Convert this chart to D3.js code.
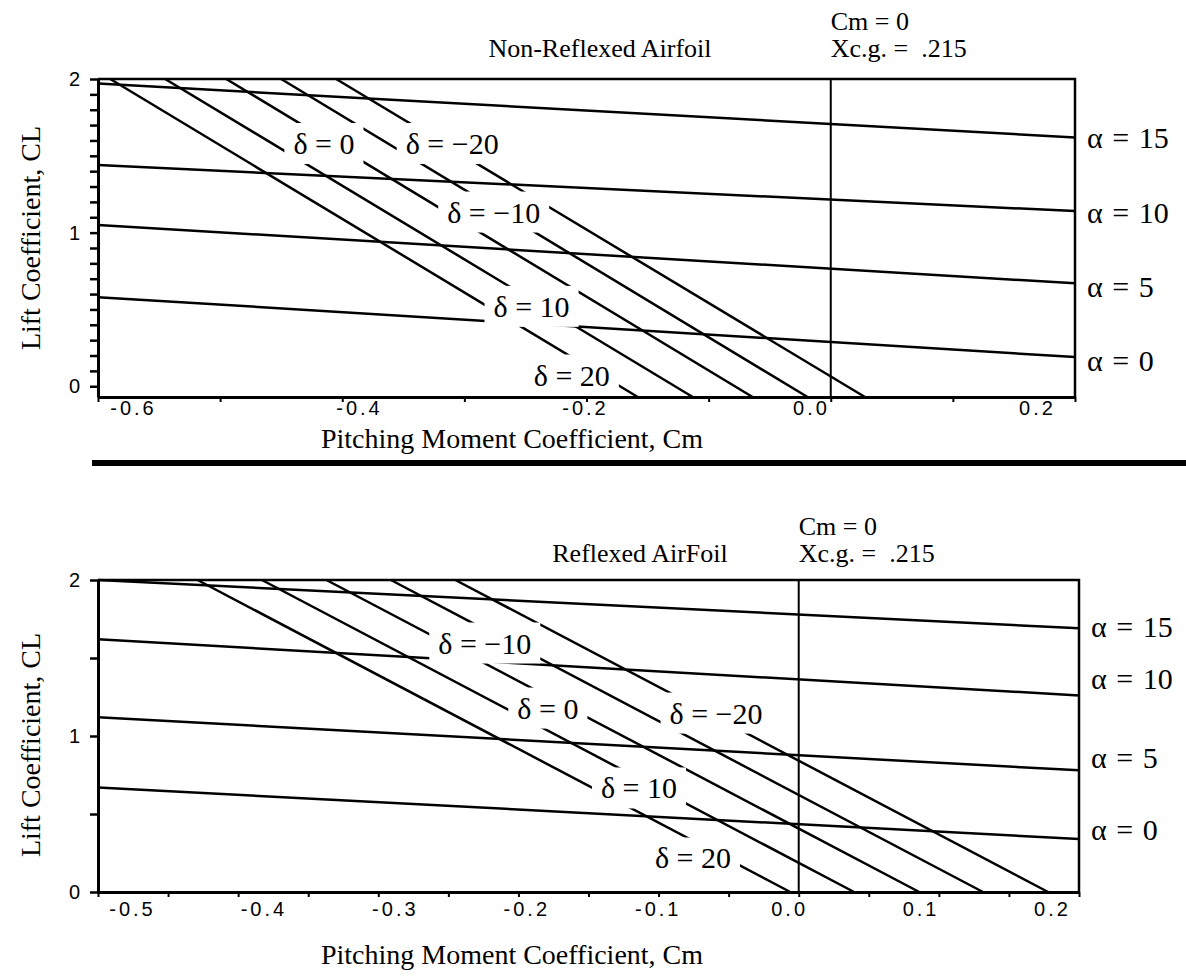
<!DOCTYPE html>
<html>
<head>
<meta charset="utf-8">
<script src="https://cdn.jsdelivr.net/npm/d3@7"></script>
<style>
  body { margin: 0; background: #fff; }
  svg { display: block; }
</style>
</head>
<body>
<svg width="1186" height="979"></svg>
<script>
'use strict'

// --- Non-Reflexed Airfoil (top) ---
const topAlpha = [0, 5, 10, 15]
const topAlphaClLeft = [0.58, 1.05, 1.44, 1.97] // CL at left edge
const topAlphaClRight = [0.19, 0.67, 1.14, 1.62] // CL at right edge
const topAlphaLabelCl = [0.17, 0.65, 1.13, 1.62]
const topDelta = [20, 10, 0, -10, -20]
const topDeltaCmHigh = [-0.59, -0.545, -0.495, -0.45, -0.405] // Cm where CL = 2
const topDeltaCmLow = [-0.158, -0.113, -0.064, -0.019, 0.028] // Cm at bottom edge
const topDeltaLabelCm = [-0.212, -0.245, -0.415, -0.276, -0.31]
const topDeltaLabelCl = [0.073, 0.52, 1.58, 1.134, 1.58]
const topXTicks = [-0.6, -0.4, -0.2, 0.0, 0.2]
const topYTicks = [0, 1, 2]

// --- Reflexed AirFoil (bottom) ---
const botAlpha = [0, 5, 10, 15]
const botAlphaClLeft = [0.67, 1.12, 1.62, 2.0]
const botAlphaClRight = [0.34, 0.78, 1.26, 1.69]
const botAlphaLabelCl = [0.4, 0.86, 1.37, 1.7]
const botDelta = [20, 10, 0, -10, -20]
const botDeltaCmHigh = [-0.429, -0.383, -0.337, -0.291, -0.245]
const botDeltaCmLow = [-0.006, 0.0395, 0.086, 0.1315, 0.178]
const botDeltaLabelCm = [-0.0755, -0.114, -0.179, -0.224, -0.059]
const botDeltaLabelCl = [0.218, 0.667, 1.179, 1.596, 1.147]
const botXTicks = [-0.5, -0.4, -0.3, -0.2, -0.1, 0.0, 0.1, 0.2]
const botYTicks = [0, 1, 2]

const serif = "'Liberation Serif', 'Times New Roman', serif"
const sans = "'Liberation Sans', Arial, sans-serif"

const svg = d3.select('svg')

const panels = [
  {
    title: 'Non-Reflexed Airfoil',
    xDomain: [-0.6, 0.2], xRange: [98, 1075], xLabelRange: [133, 1037],
    yDomain: [-0.07, 2], yRange: [397, 79],
    xMinor: d3.range(-6, 3).map(i => i / 10),
    yMinor: d3.range(0, 21).map(i => i / 10),
    xTicks: topXTicks, yTicks: topYTicks,
    alpha: topAlpha, alphaLeft: topAlphaClLeft, alphaRight: topAlphaClRight, alphaLabel: topAlphaLabelCl,
    delta: topDelta, deltaHigh: topDeltaCmHigh, deltaLow: topDeltaCmLow,
    deltaLabelCm: topDeltaLabelCm, deltaLabelCl: topDeltaLabelCl,
    titleX: 600, titleY: 57, noteY: 30, xTitleY: 448, yTitleY: 238, tickPad: 4
  },
  {
    title: 'Reflexed AirFoil',
    xDomain: [-0.5, 0.2], xRange: [98, 1079], xLabelRange: [132, 1052],
    yDomain: [0, 2], yRange: [892, 580],
    xMinor: d3.range(-10, 5).map(i => i / 20),
    yMinor: d3.range(0, 5).map(i => i / 2),
    xTicks: botXTicks, yTicks: botYTicks,
    alpha: botAlpha, alphaLeft: botAlphaClLeft, alphaRight: botAlphaClRight, alphaLabel: botAlphaLabelCl,
    delta: botDelta, deltaHigh: botDeltaCmHigh, deltaLow: botDeltaCmLow,
    deltaLabelCm: botDeltaLabelCm, deltaLabelCl: botDeltaLabelCl,
    titleX: 640, titleY: 562, noteY: 535, xTitleY: 964, yTitleY: 745, tickPad: 10
  }
]

panels.forEach(drawPanel)

// heavy rule between the two charts
svg.append('line')
  .attr('x1', 92).attr('x2', 1186)
  .attr('y1', 463).attr('y2', 463)
  .attr('stroke', '#000')
  .attr('stroke-width', 6)

function drawPanel(p) {
  const x = d3.scaleLinear().domain(p.xDomain).range(p.xRange)
  const xLab = d3.scaleLinear().domain(p.xDomain).range(p.xLabelRange)
  const y = d3.scaleLinear().domain(p.yDomain).range(p.yRange)
  const [x0, x1] = p.xDomain
  const [y0, y1] = p.yDomain

  const g = svg.append('g')
  const line = d3.line().x(d => x(d[0])).y(d => y(d[1]))

  // bottom axis: ticks
  g.append('g')
    .attr('transform', 'translate(0,' + y(y0) + ')')
    .call(d3.axisBottom(x).tickValues(p.xMinor).tickSize(5).tickSizeOuter(0).tickFormat(''))
    .call(a => a.select('.domain').attr('stroke-width', 3))
    .call(a => a.selectAll('.tick line').attr('stroke-width', 2))

  // bottom axis: labels (printed slightly off the tick marks in the original)
  g.append('g')
    .attr('transform', 'translate(0,' + y(y0) + ')')
    .call(d3.axisBottom(xLab).tickValues(p.xTicks).tickSize(0).tickPadding(p.tickPad)
      .tickFormat(d => d.toFixed(1)))
    .call(a => a.select('.domain').remove())
    .call(a => a.selectAll('text')
      .attr('font-family', sans).attr('font-size', 20).attr('letter-spacing', 3))

  // left axis
  g.append('g')
    .attr('transform', 'translate(' + x(x0) + ',0)')
    .call(d3.axisLeft(y).tickValues(p.yMinor).tickSize(8).tickSizeOuter(0).tickFormat(''))
    .call(a => a.select('.domain').attr('stroke-width', 3))
    .call(a => a.selectAll('.tick line').attr('stroke-width', 2.5))

  g.append('g')
    .attr('transform', 'translate(' + x(x0) + ',0)')
    .call(d3.axisLeft(y).tickValues(p.yTicks).tickSize(0).tickPadding(18).tickFormat(d3.format('d')))
    .call(a => a.select('.domain').remove())
    .call(a => a.selectAll('text').attr('font-family', sans).attr('font-size', 20))

  // top and right frame
  g.append('path')
    .attr('d', line([[x0, y1], [x1, y1], [x1, y0]]))
    .attr('fill', 'none')
    .attr('stroke', '#000')
    .attr('stroke-width', 2.5)

  // Cm = 0 line
  g.append('path')
    .attr('d', line([[0, y1], [0, y0]]))
    .attr('stroke', '#000')
    .attr('stroke-width', 2)

  // angle of attack lines
  g.selectAll('path.alpha')
    .data(p.alpha)
    .enter()
    .append('path')
    .attr('class', 'alpha')
    .attr('d', (d, i) => line([[x0, p.alphaLeft[i]], [x1, p.alphaRight[i]]]))
    .attr('fill', 'none')
    .attr('stroke', '#000')
    .attr('stroke-width', 2.5)

  // elevator deflection lines
  g.selectAll('path.delta')
    .data(p.delta)
    .enter()
    .append('path')
    .attr('class', 'delta')
    .attr('d', (d, i) => line([[p.deltaHigh[i], 2], [p.deltaLow[i], y0]]))
    .attr('fill', 'none')
    .attr('stroke', '#000')
    .attr('stroke-width', 2.5)

  // delta labels, each knocking a white gap into the lines under it
  const labels = g.selectAll('g.dlabel')
    .data(p.delta)
    .enter()
    .append('g')
    .attr('class', 'dlabel')
    .attr('transform', (d, i) => 'translate(' + x(p.deltaLabelCm[i]) + ',' + y(p.deltaLabelCl[i]) + ')')

  labels.append('text')
    .attr('text-anchor', 'middle')
    .attr('dy', '0.35em')
    .attr('font-family', serif)
    .attr('font-size', 30)
    .text(d => 'δ = ' + (d < 0 ? '\u2212' + (-d) : d))

  labels.each(function () {
    const b = d3.select(this).select('text').node().getBBox()
    d3.select(this).insert('rect', 'text')
      .attr('x', b.x - 9).attr('y', b.y - 4)
      .attr('width', b.width + 18).attr('height', b.height + 8)
      .attr('fill', '#fff')
  })

  // alpha labels on the right
  g.selectAll('text.alabel')
    .data(p.alpha)
    .enter()
    .append('text')
    .attr('class', 'alabel')
    .attr('x', x(x1) + 12)
    .attr('y', (d, i) => y(p.alphaLabel[i]))
    .attr('dy', '0.35em')
    .attr('font-family', serif)
    .attr('font-size', 30)
    .attr('word-spacing', 2)
    .text(d => 'α = ' + d)

  // titles
  g.append('text')
    .attr('x', p.titleX).attr('y', p.titleY)
    .attr('text-anchor', 'middle')
    .attr('font-family', serif).attr('font-size', 26)
    .text(p.title)

  g.append('text')
    .attr('x', x(0)).attr('y', p.noteY)
    .attr('font-family', serif).attr('font-size', 26)
    .text('Cm = 0')

  g.append('text')
    .attr('x', x(0)).attr('y', p.noteY + 27)
    .attr('font-family', serif).attr('font-size', 26)
    .attr('xml:space', 'preserve')
    .text('Xc.g. =  .215')

  g.append('text')
    .attr('x', 512).attr('y', p.xTitleY)
    .attr('text-anchor', 'middle')
    .attr('font-family', serif).attr('font-size', 28)
    .text('Pitching Moment Coefficient, Cm')

  g.append('text')
    .attr('transform', 'translate(40,' + p.yTitleY + ') rotate(-90)')
    .attr('text-anchor', 'middle')
    .attr('font-family', serif).attr('font-size', 28)
    .text('Lift Coefficient, CL')
}
</script>
</body>
</html>
